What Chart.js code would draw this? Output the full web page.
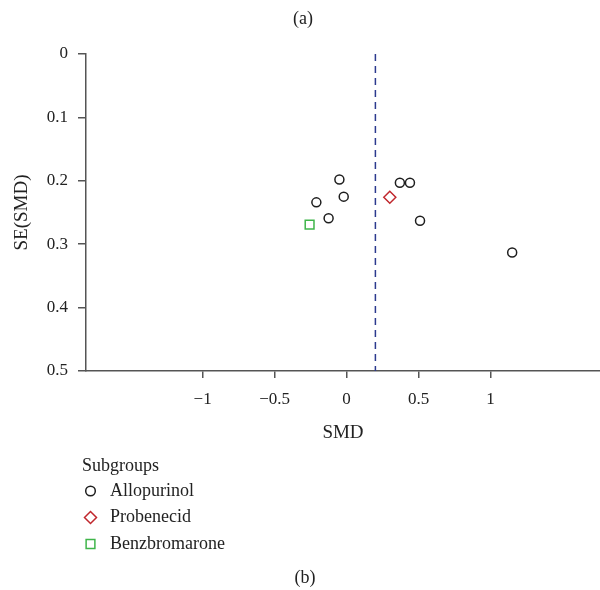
<!DOCTYPE html>
<html>
<head>
<meta charset="utf-8">
<title>Funnel plot</title>
<script src="https://cdn.jsdelivr.net/npm/chart.js"></script>
<style>
    html, body { margin: 0; padding: 0; background: #fff; }
    #funnel { display: block; }
</style>
</head>
<body>
<canvas id="funnel" width="600" height="590"></canvas>
<script>
// Valores (SMD no eixo x, SE(SMD) no eixo y)
const allopurinolSMD = [-0.05, -0.02, -0.21, -0.125, 0.37, 0.44, 0.51, 1.15];
const allopurinolSE = [0.198, 0.225, 0.234, 0.259, 0.203, 0.203, 0.263, 0.313];
const probenecidSMD = [0.30];
const probenecidSE = [0.226];
const benzbromaroneSMD = [-0.257];
const benzbromaroneSE = [0.269];
const pooledSMD = 0.2;
const seRange = [0, 0.5];
const smdRange = [-1.81, 1.76];
const xTicks = [-1, -0.5, 0, 0.5, 1];
const yTicks = [0, 0.1, 0.2, 0.3, 0.4, 0.5];
const subgroupTitle = 'Subgroups';

const FONT = '"Liberation Serif", "Times New Roman", serif';
const AXIS = '#555';

const toPoints = (xs, ys) => xs.map((x, i) => ({ x: x, y: ys[i] }));

const Funnel = {
    chart: null,

    init() {
        const ctx = document.getElementById('funnel').getContext('2d');
        this.chart = new Chart(ctx, {
            type: 'scatter',
            data: { datasets: this.buildDatasets() },
            options: this.buildOptions(),
            plugins: [this.captionPlugin()]
        });
    },

    buildDatasets() {
        const marker = (label, xs, ys, color, style, radius) => ({
            label: label,
            data: toPoints(xs, ys),
            pointStyle: style,
            pointRadius: radius,
            pointHoverRadius: radius,
            borderColor: color,
            backgroundColor: 'rgba(0,0,0,0)',
            pointBorderWidth: 1.5,
            inLegend: true
        });
        return [
            {
                label: 'pooled',
                type: 'line',
                data: toPoints([pooledSMD, pooledSMD], seRange),
                borderColor: '#2c3a8e',
                borderWidth: 1.5,
                borderDash: [7, 5],
                pointRadius: 0,
                fill: false
            },
            marker('Allopurinol', allopurinolSMD, allopurinolSE, '#1e1e1e', 'circle', 4.5),
            marker('Probenecid', probenecidSMD, probenecidSE, '#c0272d', 'rectRot', 6),
            marker('Benzbromarone', benzbromaroneSMD, benzbromaroneSE, '#3fb54a', 'rect', 6.2)
        ];
    },

    buildOptions() {
        const tickFont = { family: FONT, size: 17 };
        const titleFont = { family: FONT, size: 19 };
        return {
            responsive: false,
            animation: false,
            layout: { autoPadding: false, padding: { top: 54, right: 0, bottom: 141, left: 0 } },
            plugins: { legend: { display: false }, tooltip: { enabled: false } },
            scales: {
                x: {
                    type: 'linear',
                    min: smdRange[0],
                    max: smdRange[1],
                    afterBuildTicks: (scale) => { scale.ticks = xTicks.map(v => ({ value: v })); },
                    afterFit: (scale) => { scale.height = 78; },
                    ticks: {
                        font: tickFont,
                        color: '#222',
                        padding: 11,
                        callback: (v) => String(v).replace('-', '\u2212')
                    },
                    grid: { drawOnChartArea: false, drawTicks: true, tickLength: 7, color: AXIS, lineWidth: 1.5 },
                    border: { color: AXIS, width: 1.5 },
                    title: { display: true, text: 'SMD', font: titleFont, color: '#222', padding: { top: 0, bottom: 5 } }
                },
                y: {
                    type: 'linear',
                    reverse: true,
                    min: seRange[0],
                    max: seRange[1],
                    afterBuildTicks: (scale) => { scale.ticks = yTicks.map(v => ({ value: v })); },
                    afterFit: (scale) => { scale.width = 86; },
                    ticks: { font: tickFont, color: '#222', padding: 10 },
                    grid: { drawOnChartArea: false, drawTicks: true, tickLength: 8, color: AXIS, lineWidth: 1.5 },
                    border: { color: AXIS, width: 1.5 },
                    title: { display: true, text: 'SE(SMD)', font: titleFont, color: '#222', padding: { top: 11, bottom: 0 } }
                }
            }
        };
    },

    // Legenda vertical e rótulos (a)/(b)
    captionPlugin() {
        return {
            id: 'captions',
            afterDraw(chart) {
                const ctx = chart.ctx;
                ctx.save();
                ctx.textBaseline = 'middle';
                ctx.fillStyle = '#222';

                ctx.font = '18px ' + FONT;
                ctx.textAlign = 'center';
                ctx.fillText('(a)', 303, 19);
                ctx.fillText('(b)', 305, 578);

                ctx.textAlign = 'left';
                ctx.fillText(subgroupTitle, 82, 466);

                let y = 491;
                chart.data.datasets.filter(d => d.inLegend).forEach(ds => {
                    ctx.strokeStyle = ds.borderColor;
                    ctx.fillStyle = 'rgba(0,0,0,0)';
                    ctx.lineWidth = 1.5;
                    const r = ds.pointStyle === 'circle' ? 4.8 : ds.pointRadius;
                    if (Chart.helpers && Chart.helpers.drawPoint) {
                        Chart.helpers.drawPoint(ctx, { pointStyle: ds.pointStyle, radius: r, rotation: 0, borderWidth: 1.5 }, 90.5, y);
                    }
                    ctx.fillStyle = '#222';
                    ctx.fillText(ds.label, 110, y);
                    y += 26.5;
                });
                ctx.restore();
            }
        };
    }
};

document.addEventListener('DOMContentLoaded', () => Funnel.init());
</script>
</body>
</html>
